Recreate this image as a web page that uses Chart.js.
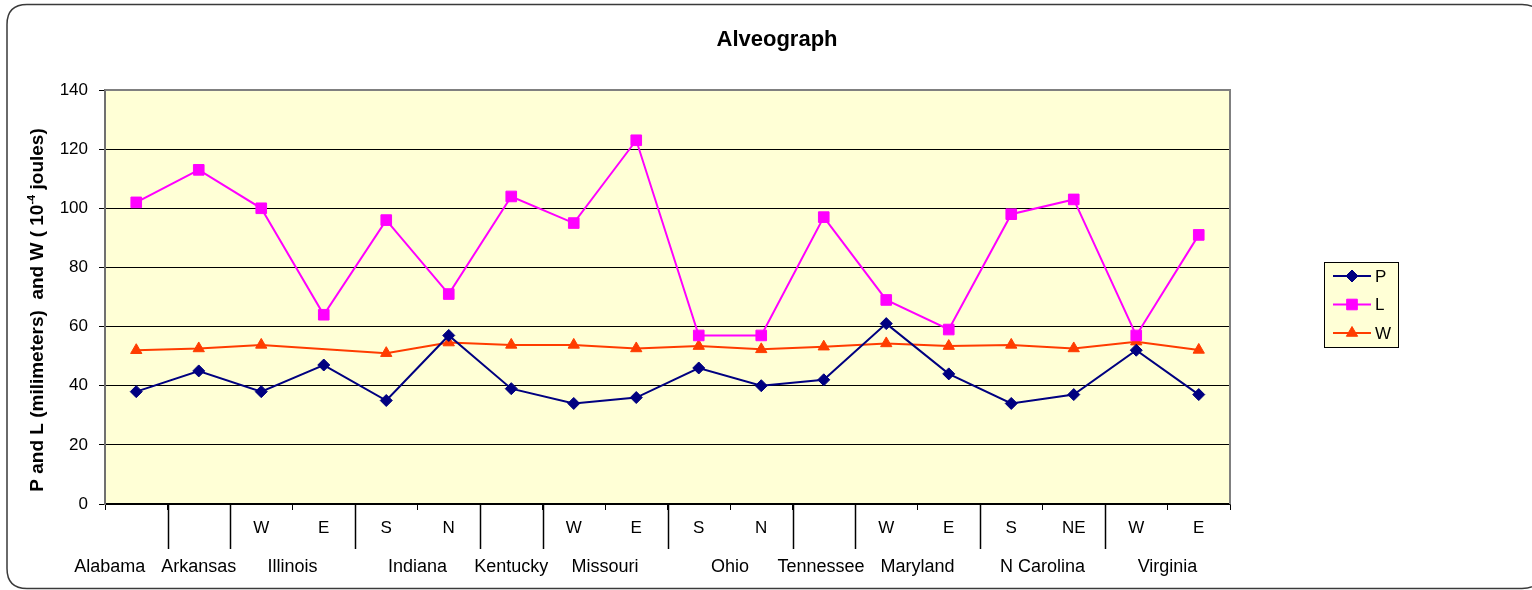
<!DOCTYPE html>
<html>
<head>
<meta charset="utf-8">
<title>Alveograph</title>
<script src="https://cdn.jsdelivr.net/npm/chart.js@4/dist/chart.umd.min.js"></script>
<style>
  html, body { margin: 0; padding: 0; background: #ffffff; }
  canvas { display: block; }
</style>
</head>
<body>
<canvas id="chart" width="1532" height="590"></canvas>
<script>
// Region (state) of each sample and its sub-location within the state
const states = ['Alabama', 'Arkansas', 'Illinois', 'Illinois', 'Indiana', 'Indiana', 'Kentucky',
  'Missouri', 'Missouri', 'Ohio', 'Ohio', 'Tennessee', 'Maryland', 'Maryland',
  'N Carolina', 'N Carolina', 'Virginia', 'Virginia'];
const locations = ['', '', 'W', 'E', 'S', 'N', '', 'W', 'E', 'S', 'N', '', 'W', 'E', 'S', 'NE', 'W', 'E'];

// Alveograph readings
const pValues = [38, 45, 38, 47, 35, 57, 39, 34, 36, 46, 40, 42, 61, 44, 34, 37, 52, 37];
const lValues = [102, 113, 100, 64, 96, 71, 104, 95, 123, 57, 57, 97, 69, 59, 98, 103, 57, 91];
const wValues = [52, 52.6, 53.8, null, 51, 54.6, 53.8, 53.8, 52.6, 53.4, 52.3, 53.2, 54.3, 53.4, 53.8, 52.6, 54.9, 52.1];

const yMin = 0;
const yMax = 140;
const yStep = 20;

const FONT = "'Liberation Sans', Arial, sans-serif";
const PLOT_BG = '#ffffd6';

// Page frame, plot background and plot border
const framePlugin = {
  id: 'frame',
  beforeDraw(chart) {
    const ctx = chart.ctx;
    const a = chart.chartArea;
    ctx.save();
    // rounded outer frame
    const x0 = 7, y0 = 4.5, x1 = 1542, y1 = 588.5, r = 20;
    ctx.beginPath();
    ctx.moveTo(x0 + r, y0);
    ctx.lineTo(x1 - r, y0);
    ctx.quadraticCurveTo(x1, y0, x1, y0 + r);
    ctx.lineTo(x1, y1 - r);
    ctx.quadraticCurveTo(x1, y1, x1 - r, y1);
    ctx.lineTo(x0 + r, y1);
    ctx.quadraticCurveTo(x0, y1, x0, y1 - r);
    ctx.lineTo(x0, y0 + r);
    ctx.quadraticCurveTo(x0, y0, x0 + r, y0);
    ctx.closePath();
    ctx.lineWidth = 1.5;
    ctx.strokeStyle = '#3a3a3a';
    ctx.stroke();
    // plot fill
    ctx.fillStyle = PLOT_BG;
    ctx.fillRect(a.left, a.top, a.right - a.left, a.bottom - a.top);
    ctx.restore();
  },
  afterDatasetsDraw(chart) {
    const ctx = chart.ctx;
    const a = chart.chartArea;
    ctx.save();
    ctx.strokeStyle = '#808080';
    ctx.lineWidth = 2;
    ctx.beginPath();
    ctx.moveTo(a.left, a.top);
    ctx.lineTo(a.right, a.top);
    ctx.lineTo(a.right, a.bottom);
    ctx.stroke();
    ctx.restore();
  }
};

// Title and the axis title with its superscript exponent
const titlesPlugin = {
  id: 'titles',
  afterDraw(chart) {
    const ctx = chart.ctx;
    ctx.save();
    ctx.fillStyle = '#000';
    ctx.font = 'bold 22px ' + FONT;
    ctx.textAlign = 'center';
    ctx.textBaseline = 'middle';
    ctx.fillText('Alveograph', 777, 40);

    const parts = [
      { t: 'P and L (milimeters)  and W ( 10', f: 'bold 19px ' + FONT, dy: 0 },
      { t: '-4', f: 'bold 11px ' + FONT, dy: -6 },
      { t: ' joules)', f: 'bold 19px ' + FONT, dy: 0 }
    ];
    let total = 0;
    parts.forEach(p => { ctx.font = p.f; p.w = ctx.measureText(p.t).width; total += p.w; });
    ctx.translate(38, 310);
    ctx.rotate(-Math.PI / 2);
    ctx.textAlign = 'left';
    ctx.textBaseline = 'middle';
    let x = -total / 2;
    parts.forEach(p => {
      ctx.font = p.f;
      ctx.fillText(p.t, x, p.dy);
      x += p.w;
    });
    ctx.restore();
  }
};

// Second level of category labels: state names with separators between them
const groupAxisPlugin = {
  id: 'groupAxis',
  afterDraw(chart) {
    const ctx = chart.ctx;
    const xs = chart.scales.x;
    const base = chart.chartArea.bottom;
    ctx.save();
    ctx.strokeStyle = '#000';
    ctx.lineWidth = 1.5;
    const groups = [];
    states.forEach((s, i) => {
      if (i === 0 || s !== states[i - 1]) {
        groups.push({ name: s, from: i, to: i });
        if (i > 0) {
          const bx = Math.round((xs.getPixelForValue(i - 1) + xs.getPixelForValue(i)) / 2) + 0.5;
          ctx.beginPath();
          ctx.moveTo(bx, base);
          ctx.lineTo(bx, base + 45);
          ctx.stroke();
        }
      } else {
        groups[groups.length - 1].to = i;
      }
    });
    ctx.font = '18px ' + FONT;
    ctx.fillStyle = '#000';
    ctx.textBaseline = 'middle';
    ctx.textAlign = 'left';
    groups.forEach(g => {
      g.w = ctx.measureText(g.name).width;
      g.c = (xs.getPixelForValue(g.from) + xs.getPixelForValue(g.to)) / 2;
      g.l = g.c - g.w / 2;
    });
    // keep neighbouring names apart by sliding earlier ones left
    for (let i = groups.length - 2; i >= 0; i--) {
      const over = groups[i].l + groups[i].w + 16 - groups[i + 1].l;
      if (over > 0) groups[i].l -= over;
    }
    groups.forEach(g => ctx.fillText(g.name, g.l, base + 63));
    ctx.restore();
  }
};

// Boxed legend at the right
const legendBoxPlugin = {
  id: 'legendBox',
  afterDraw(chart) {
    const ctx = chart.ctx;
    const bx = 1324.5, by = 262.5, bw = 74, bh = 85;
    ctx.save();
    ctx.fillStyle = PLOT_BG;
    ctx.fillRect(bx, by, bw, bh);
    ctx.strokeStyle = '#000';
    ctx.lineWidth = 1;
    ctx.strokeRect(bx, by, bw, bh);
    chart.data.datasets.forEach((ds, i) => {
      const y = 276 + i * 28.5;
      ctx.strokeStyle = ds.borderColor;
      ctx.lineWidth = 2;
      ctx.beginPath();
      ctx.moveTo(1333, y);
      ctx.lineTo(1371, y);
      ctx.stroke();
      ctx.fillStyle = ds.pointBackgroundColor;
      ctx.strokeStyle = ds.pointBorderColor;
      ctx.lineWidth = 1;
      Chart.helpers.drawPoint(ctx, { pointStyle: ds.pointStyle, rotation: 0, radius: ds.pointRadius, borderWidth: 1 }, 1352, y);
      ctx.fillStyle = '#000';
      ctx.font = '17px ' + FONT;
      ctx.textAlign = 'left';
      ctx.textBaseline = 'middle';
      ctx.fillText(ds.label, 1375, y + 1);
    });
    ctx.restore();
  }
};

new Chart(document.getElementById('chart'), {
  type: 'line',
  data: {
    labels: locations,
    datasets: [
      {
        label: 'P', data: pValues,
        borderColor: '#000080', borderWidth: 2,
        pointStyle: 'rectRot', pointRadius: 6,
        pointBackgroundColor: '#000080', pointBorderColor: '#000080', pointBorderWidth: 1
      },
      {
        label: 'L', data: lValues,
        borderColor: '#ff00ff', borderWidth: 2,
        pointStyle: 'rect', pointRadius: 7.5,
        pointBackgroundColor: '#ff00ff', pointBorderColor: '#ff00ff', pointBorderWidth: 1
      },
      {
        label: 'W', data: wValues, spanGaps: true,
        borderColor: '#ff3c00', borderWidth: 2,
        pointStyle: 'triangle', pointRadius: 6.5,
        pointBackgroundColor: '#ff3c00', pointBorderColor: '#ff3c00', pointBorderWidth: 1
      }
    ]
  },
  options: {
    responsive: false,
    animation: false,
    devicePixelRatio: 1,
    layout: { padding: { left: 0, top: 90, right: 302, bottom: 0 } },
    elements: { line: { tension: 0 } },
    plugins: { legend: { display: false }, title: { display: false }, tooltip: { enabled: false } },
    scales: {
      x: {
        type: 'category',
        offset: true,
        grid: { offset: true, drawOnChartArea: false, drawTicks: true, tickLength: 6, color: '#000', lineWidth: 1 },
        border: { display: true, color: '#000', width: 1.5 },
        ticks: {
          autoSkip: false, maxRotation: 0, minRotation: 0, padding: 8, color: '#000',
          font: { family: FONT, size: 17 }
        },
        afterFit(scale) { scale.height = 86; }
      },
      y: {
        min: yMin, max: yMax,
        grid: { color: '#000', lineWidth: 1, drawTicks: true, tickLength: 6 },
        border: { display: true, color: '#707070', width: 2 },
        ticks: {
          stepSize: yStep, padding: 11, color: '#000',
          font: { family: FONT, size: 17 }
        },
        afterFit(scale) { scale.width = 105; }
      }
    }
  },
  plugins: [framePlugin, titlesPlugin, groupAxisPlugin, legendBoxPlugin]
});
</script>
</body>
</html>
